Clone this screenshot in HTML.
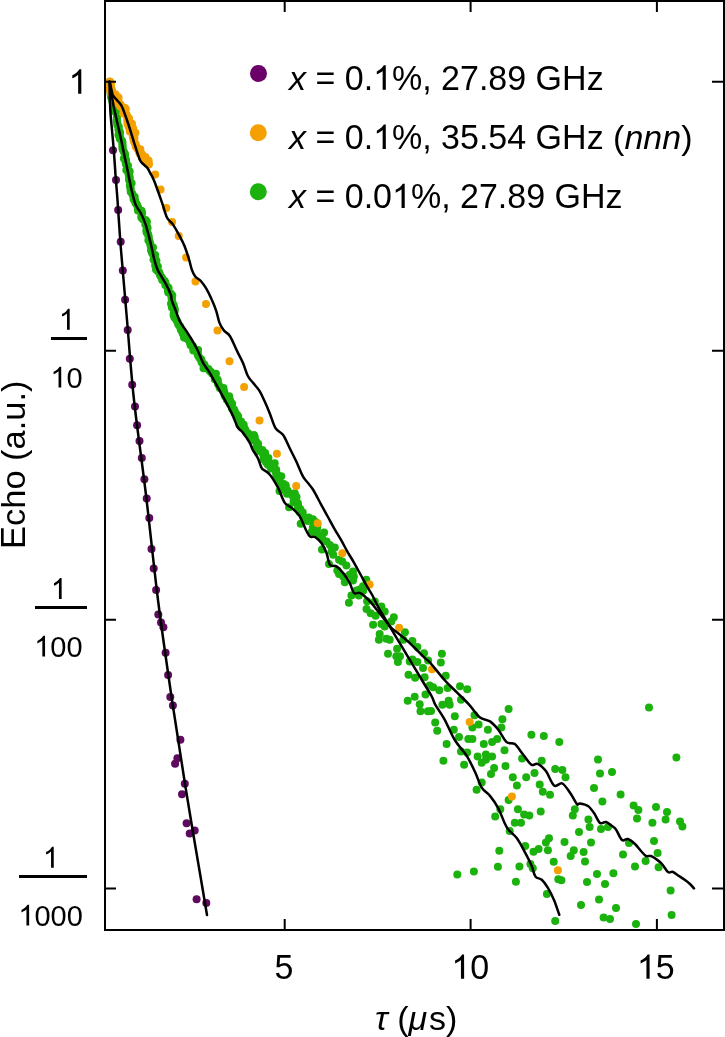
<!DOCTYPE html>
<html><head><meta charset="utf-8"><style>
html,body{margin:0;padding:0;background:#fff;width:725px;height:1037px;overflow:hidden}
svg{display:block;will-change:transform}
text{font-family:"Liberation Sans",sans-serif;fill:#000;font-kerning:none;white-space:pre}
</style></head><body>
<svg width="725" height="1037" viewBox="0 0 725 1037">
<defs><clipPath id="plotclip"><rect x="105" y="1" width="619" height="929"/></clipPath></defs>
<g clip-path="url(#plotclip)">
<g fill="#1cb20e"><circle cx="109.7" cy="81.7" r="4.0"/><circle cx="109.4" cy="83.7" r="4.0"/><circle cx="110.3" cy="85.6" r="4.0"/><circle cx="110.8" cy="87.6" r="4.0"/><circle cx="111.6" cy="89.5" r="4.0"/><circle cx="111.3" cy="91.5" r="4.0"/><circle cx="110.5" cy="93.7" r="4.0"/><circle cx="111.4" cy="95.6" r="4.0"/><circle cx="111.2" cy="97.6" r="4.0"/><circle cx="112.2" cy="99.5" r="4.0"/><circle cx="112.4" cy="101.5" r="4.0"/><circle cx="113.0" cy="103.4" r="4.0"/><circle cx="115.0" cy="105.1" r="4.0"/><circle cx="113.1" cy="107.5" r="4.0"/><circle cx="113.8" cy="109.4" r="4.0"/><circle cx="114.2" cy="111.3" r="4.0"/><circle cx="116.6" cy="112.9" r="4.0"/><circle cx="117.1" cy="114.8" r="4.0"/><circle cx="116.8" cy="116.9" r="4.0"/><circle cx="116.9" cy="119.0" r="4.0"/><circle cx="116.6" cy="121.1" r="4.0"/><circle cx="117.4" cy="122.9" r="4.0"/><circle cx="117.3" cy="125.0" r="4.0"/><circle cx="118.8" cy="126.7" r="4.0"/><circle cx="118.4" cy="128.9" r="4.0"/><circle cx="118.8" cy="130.8" r="4.0"/><circle cx="120.1" cy="132.6" r="4.0"/><circle cx="118.5" cy="135.0" r="4.0"/><circle cx="120.0" cy="136.7" r="4.0"/><circle cx="119.8" cy="138.8" r="4.0"/><circle cx="121.9" cy="140.4" r="4.0"/><circle cx="122.4" cy="142.3" r="4.0"/><circle cx="122.4" cy="144.4" r="4.0"/><circle cx="122.6" cy="146.4" r="4.0"/><circle cx="122.4" cy="148.5" r="4.0"/><circle cx="123.1" cy="150.3" r="4.0"/><circle cx="124.1" cy="152.2" r="4.0"/><circle cx="125.0" cy="154.0" r="4.0"/><circle cx="125.0" cy="156.1" r="4.0"/><circle cx="123.9" cy="158.4" r="4.0"/><circle cx="126.1" cy="159.9" r="4.0"/><circle cx="125.6" cy="162.1" r="4.0"/><circle cx="125.9" cy="164.1" r="4.0"/><circle cx="128.0" cy="165.7" r="4.0"/><circle cx="127.0" cy="167.9" r="4.0"/><circle cx="126.3" cy="170.1" r="4.0"/><circle cx="129.7" cy="171.5" r="4.0"/><circle cx="128.6" cy="173.7" r="4.0"/><circle cx="128.8" cy="175.7" r="4.0"/><circle cx="129.8" cy="177.6" r="4.0"/><circle cx="129.0" cy="179.8" r="4.0"/><circle cx="129.9" cy="181.6" r="4.0"/><circle cx="131.6" cy="183.3" r="4.0"/><circle cx="129.9" cy="185.7" r="4.0"/><circle cx="130.5" cy="187.6" r="4.0"/><circle cx="130.6" cy="189.6" r="4.0"/><circle cx="130.7" cy="191.7" r="4.0"/><circle cx="132.2" cy="193.4" r="4.0"/><circle cx="132.9" cy="195.3" r="4.0"/><circle cx="134.7" cy="196.9" r="4.0"/><circle cx="133.6" cy="199.3" r="4.0"/><circle cx="135.2" cy="200.9" r="4.0"/><circle cx="135.5" cy="202.9" r="4.0"/><circle cx="136.7" cy="204.3" r="4.0"/><circle cx="137.5" cy="206.1" r="4.0"/><circle cx="138.2" cy="208.0" r="4.0"/><circle cx="137.9" cy="210.6" r="4.0"/><circle cx="141.5" cy="210.7" r="4.0"/><circle cx="142.1" cy="212.9" r="4.0"/><circle cx="141.5" cy="215.4" r="4.0"/><circle cx="141.3" cy="217.6" r="4.0"/><circle cx="142.8" cy="219.2" r="4.0"/><circle cx="145.6" cy="220.1" r="4.0"/><circle cx="146.9" cy="221.7" r="4.0"/><circle cx="145.3" cy="224.6" r="4.0"/><circle cx="146.8" cy="226.2" r="4.0"/><circle cx="147.6" cy="228.1" r="4.0"/><circle cx="146.3" cy="230.5" r="4.0"/><circle cx="146.7" cy="232.4" r="4.0"/><circle cx="148.1" cy="234.2" r="4.0"/><circle cx="148.5" cy="236.1" r="4.0"/><circle cx="148.9" cy="238.1" r="4.0"/><circle cx="148.4" cy="240.3" r="4.0"/><circle cx="149.8" cy="242.0" r="4.0"/><circle cx="150.3" cy="243.9" r="4.0"/><circle cx="150.7" cy="245.9" r="4.0"/><circle cx="153.0" cy="247.4" r="4.0"/><circle cx="151.0" cy="249.9" r="4.0"/><circle cx="151.7" cy="251.8" r="4.0"/><circle cx="152.5" cy="253.7" r="4.0"/><circle cx="155.1" cy="255.1" r="4.0"/><circle cx="154.4" cy="257.3" r="4.0"/><circle cx="153.5" cy="259.6" r="4.0"/><circle cx="156.4" cy="260.8" r="4.0"/><circle cx="155.6" cy="263.2" r="4.0"/><circle cx="155.2" cy="265.4" r="4.0"/><circle cx="157.9" cy="266.6" r="4.0"/><circle cx="156.0" cy="269.4" r="4.0"/><circle cx="157.7" cy="271.0" r="4.0"/><circle cx="159.3" cy="272.4" r="4.0"/><circle cx="159.9" cy="274.4" r="4.0"/><circle cx="160.6" cy="276.2" r="4.0"/><circle cx="162.0" cy="277.8" r="4.0"/><circle cx="162.2" cy="279.9" r="4.0"/><circle cx="164.6" cy="280.9" r="4.0"/><circle cx="165.4" cy="282.7" r="4.0"/><circle cx="165.3" cy="285.1" r="4.0"/><circle cx="167.0" cy="286.4" r="4.0"/><circle cx="168.6" cy="287.9" r="4.0"/><circle cx="167.9" cy="290.4" r="4.0"/><circle cx="168.3" cy="292.4" r="4.0"/><circle cx="170.7" cy="293.5" r="4.0"/><circle cx="172.3" cy="295.4" r="4.0"/><circle cx="171.5" cy="297.5" r="4.0"/><circle cx="171.8" cy="299.5" r="4.0"/><circle cx="172.3" cy="301.4" r="4.0"/><circle cx="171.0" cy="303.7" r="4.0"/><circle cx="173.8" cy="305.2" r="4.0"/><circle cx="171.9" cy="307.6" r="4.0"/><circle cx="174.8" cy="309.1" r="4.0"/><circle cx="174.7" cy="311.1" r="4.0"/><circle cx="173.7" cy="313.4" r="4.0"/><circle cx="173.6" cy="315.4" r="4.0"/><circle cx="174.5" cy="317.5" r="4.0"/><circle cx="175.8" cy="319.1" r="4.0"/><circle cx="176.9" cy="320.7" r="4.0"/><circle cx="177.8" cy="322.5" r="4.0"/><circle cx="178.3" cy="324.5" r="4.0"/><circle cx="179.9" cy="326.0" r="4.0"/><circle cx="180.4" cy="328.0" r="4.0"/><circle cx="181.0" cy="329.9" r="4.0"/><circle cx="182.4" cy="331.4" r="4.0"/><circle cx="182.7" cy="333.6" r="4.0"/><circle cx="184.0" cy="335.1" r="4.0"/><circle cx="184.0" cy="337.6" r="4.0"/><circle cx="186.5" cy="338.3" r="4.0"/><circle cx="188.3" cy="339.5" r="4.0"/><circle cx="189.4" cy="341.2" r="4.0"/><circle cx="190.2" cy="343.0" r="4.0"/><circle cx="190.6" cy="345.2" r="4.0"/><circle cx="192.8" cy="346.1" r="4.0"/><circle cx="193.4" cy="348.2" r="4.0"/><circle cx="193.3" cy="350.6" r="4.0"/><circle cx="198.1" cy="350.0" r="4.0"/><circle cx="197.8" cy="352.4" r="4.0"/><circle cx="197.7" cy="354.8" r="4.0"/><circle cx="198.6" cy="356.6" r="4.0"/><circle cx="199.8" cy="358.3" r="4.0"/><circle cx="201.4" cy="359.6" r="4.0"/><circle cx="201.5" cy="361.9" r="4.0"/><circle cx="202.8" cy="363.4" r="4.0"/><circle cx="204.5" cy="364.7" r="4.0"/><circle cx="203.5" cy="368.3" r="4.0"/><circle cx="206.4" cy="368.3" r="4.0"/><circle cx="208.4" cy="369.1" r="4.0"/><circle cx="209.5" cy="370.8" r="4.0"/><circle cx="211.0" cy="372.1" r="4.0"/><circle cx="212.3" cy="373.7" r="4.0"/><circle cx="215.9" cy="373.8" r="4.0"/><circle cx="215.0" cy="376.7" r="4.0"/><circle cx="214.8" cy="379.2" r="4.0"/><circle cx="217.7" cy="379.7" r="4.0"/><circle cx="217.9" cy="382.0" r="4.0"/><circle cx="218.1" cy="384.2" r="4.0"/><circle cx="219.2" cy="385.8" r="4.0"/><circle cx="219.8" cy="387.9" r="4.0"/><circle cx="223.5" cy="388.0" r="4.0"/><circle cx="223.3" cy="390.4" r="4.0"/><circle cx="224.3" cy="392.1" r="4.0"/><circle cx="224.4" cy="394.4" r="4.0"/><circle cx="225.0" cy="396.3" r="4.0"/><circle cx="229.2" cy="396.2" r="4.0"/><circle cx="226.9" cy="399.8" r="4.0"/><circle cx="230.1" cy="400.3" r="4.0"/><circle cx="229.2" cy="403.1" r="4.0"/><circle cx="232.1" cy="403.7" r="4.0"/><circle cx="231.8" cy="406.3" r="4.0"/><circle cx="231.9" cy="408.5" r="4.0"/><circle cx="234.1" cy="409.5" r="4.0"/><circle cx="234.9" cy="411.4" r="4.0"/><circle cx="235.4" cy="413.4" r="4.0"/><circle cx="237.0" cy="414.8" r="4.0"/><circle cx="238.2" cy="416.4" r="4.0"/><circle cx="237.7" cy="418.9" r="4.0"/><circle cx="239.0" cy="420.5" r="4.0"/><circle cx="241.1" cy="421.6" r="4.0"/><circle cx="239.3" cy="424.8" r="4.0"/><circle cx="243.7" cy="424.8" r="4.0"/><circle cx="242.8" cy="427.5" r="4.0"/><circle cx="244.7" cy="428.8" r="4.0"/><circle cx="245.7" cy="430.5" r="4.0"/><circle cx="246.4" cy="432.7" r="4.0"/><circle cx="248.4" cy="433.5" r="4.0"/><circle cx="249.2" cy="435.5" r="4.0"/><circle cx="253.8" cy="434.9" r="4.0"/><circle cx="254.7" cy="436.7" r="4.0"/><circle cx="252.2" cy="440.2" r="4.0"/><circle cx="255.6" cy="440.8" r="4.0"/><circle cx="256.6" cy="442.5" r="4.0"/><circle cx="258.2" cy="443.9" r="4.0"/><circle cx="255.6" cy="448.3" r="4.0"/><circle cx="257.7" cy="448.9" r="4.0"/><circle cx="257.7" cy="451.0" r="4.0"/><circle cx="262.4" cy="450.0" r="4.0"/><circle cx="262.3" cy="452.7" r="4.0"/><circle cx="265.1" cy="453.0" r="4.0"/><circle cx="263.6" cy="456.7" r="4.0"/><circle cx="263.6" cy="459.2" r="4.0"/><circle cx="268.4" cy="458.1" r="4.0"/><circle cx="266.0" cy="462.3" r="4.0"/><circle cx="268.1" cy="463.3" r="4.0"/><circle cx="270.9" cy="463.7" r="4.0"/><circle cx="274.7" cy="463.3" r="4.0"/><circle cx="271.0" cy="468.5" r="4.0"/><circle cx="274.3" cy="468.6" r="4.0"/><circle cx="276.2" cy="469.8" r="4.0"/><circle cx="275.9" cy="472.4" r="4.0"/><circle cx="277.0" cy="474.1" r="4.0"/><circle cx="276.3" cy="476.6" r="4.0"/><circle cx="281.3" cy="476.2" r="4.0"/><circle cx="278.8" cy="479.8" r="4.0"/><circle cx="279.3" cy="481.9" r="4.0"/><circle cx="280.3" cy="483.6" r="4.0"/><circle cx="283.8" cy="483.9" r="4.0"/><circle cx="285.7" cy="485.2" r="4.0"/><circle cx="284.1" cy="488.5" r="4.0"/><circle cx="286.6" cy="489.2" r="4.0"/><circle cx="287.8" cy="490.9" r="4.0"/><circle cx="287.0" cy="493.8" r="4.0"/><circle cx="290.7" cy="493.7" r="4.0"/><circle cx="294.8" cy="493.2" r="4.0"/><circle cx="293.2" cy="496.9" r="4.0"/><circle cx="296.5" cy="497.1" r="4.0"/><circle cx="293.6" cy="501.4" r="4.0"/><circle cx="295.4" cy="502.6" r="4.0"/><circle cx="297.9" cy="503.3" r="4.0"/><circle cx="298.1" cy="505.6" r="4.0"/><circle cx="298.0" cy="508.1" r="4.0"/><circle cx="300.2" cy="509.0" r="4.0"/><circle cx="299.5" cy="511.9" r="4.0"/><circle cx="302.7" cy="512.2" r="4.0"/><circle cx="302.4" cy="515.0" r="4.0"/><circle cx="303.1" cy="517.1" r="4.0"/><circle cx="304.2" cy="518.7" r="4.0"/><circle cx="308.7" cy="517.5" r="4.0"/><circle cx="307.8" cy="520.9" r="4.0"/><circle cx="312.9" cy="519.2" r="4.0"/><circle cx="313.1" cy="521.6" r="4.0"/><circle cx="315.6" cy="522.0" r="4.0"/><circle cx="312.9" cy="527.2" r="4.0"/><circle cx="317.3" cy="525.9" r="4.0"/><circle cx="317.0" cy="528.8" r="4.0"/><circle cx="441.9" cy="653.8" r="4.0"/><circle cx="440.8" cy="662.5" r="4.0"/><circle cx="445.7" cy="675.7" r="4.0"/><circle cx="433.1" cy="687.2" r="4.0"/><circle cx="439.3" cy="690.3" r="4.0"/><circle cx="447.6" cy="687.9" r="4.0"/><circle cx="460.0" cy="686.2" r="4.0"/><circle cx="467.2" cy="689.3" r="4.0"/><circle cx="461.0" cy="699.7" r="4.0"/><circle cx="448.6" cy="700.7" r="4.0"/><circle cx="442.4" cy="704.8" r="4.0"/><circle cx="449.7" cy="704.8" r="4.0"/><circle cx="431.0" cy="711.0" r="4.0"/><circle cx="454.8" cy="716.2" r="4.0"/><circle cx="474.5" cy="715.2" r="4.0"/><circle cx="508.6" cy="709.0" r="4.0"/><circle cx="502.4" cy="719.3" r="4.0"/><circle cx="501.4" cy="727.6" r="4.0"/><circle cx="435.2" cy="722.4" r="4.0"/><circle cx="437.2" cy="730.7" r="4.0"/><circle cx="453.8" cy="729.7" r="4.0"/><circle cx="472.4" cy="727.6" r="4.0"/><circle cx="478.6" cy="724.5" r="4.0"/><circle cx="487.9" cy="729.7" r="4.0"/><circle cx="459.0" cy="736.9" r="4.0"/><circle cx="468.3" cy="739.0" r="4.0"/><circle cx="472.4" cy="739.0" r="4.0"/><circle cx="446.6" cy="744.1" r="4.0"/><circle cx="483.8" cy="744.1" r="4.0"/><circle cx="492.1" cy="742.1" r="4.0"/><circle cx="497.2" cy="739.0" r="4.0"/><circle cx="531.4" cy="734.8" r="4.0"/><circle cx="543.8" cy="735.9" r="4.0"/><circle cx="559.3" cy="742.1" r="4.0"/><circle cx="461.0" cy="751.4" r="4.0"/><circle cx="467.2" cy="752.4" r="4.0"/><circle cx="477.6" cy="756.6" r="4.0"/><circle cx="485.9" cy="754.5" r="4.0"/><circle cx="492.1" cy="756.6" r="4.0"/><circle cx="504.5" cy="750.3" r="4.0"/><circle cx="522.1" cy="758.6" r="4.0"/><circle cx="541.7" cy="760.7" r="4.0"/><circle cx="443.4" cy="760.7" r="4.0"/><circle cx="464.1" cy="764.8" r="4.0"/><circle cx="481.7" cy="762.8" r="4.0"/><circle cx="485.9" cy="759.7" r="4.0"/><circle cx="494.1" cy="767.9" r="4.0"/><circle cx="505.5" cy="765.9" r="4.0"/><circle cx="491.0" cy="774.1" r="4.0"/><circle cx="555.2" cy="769.0" r="4.0"/><circle cx="562.4" cy="770.0" r="4.0"/><circle cx="565.5" cy="777.2" r="4.0"/><circle cx="526.2" cy="777.2" r="4.0"/><circle cx="534.5" cy="773.1" r="4.0"/><circle cx="512.8" cy="777.2" r="4.0"/><circle cx="516.9" cy="785.5" r="4.0"/><circle cx="539.7" cy="784.5" r="4.0"/><circle cx="542.8" cy="791.7" r="4.0"/><circle cx="550.0" cy="794.8" r="4.0"/><circle cx="481.7" cy="782.4" r="4.0"/><circle cx="476.6" cy="789.7" r="4.0"/><circle cx="508.6" cy="800.0" r="4.0"/><circle cx="517.9" cy="809.3" r="4.0"/><circle cx="540.7" cy="811.4" r="4.0"/><circle cx="500.3" cy="809.3" r="4.0"/><circle cx="495.2" cy="816.6" r="4.0"/><circle cx="524.1" cy="814.5" r="4.0"/><circle cx="529.3" cy="815.5" r="4.0"/><circle cx="514.8" cy="822.8" r="4.0"/><circle cx="521.0" cy="822.8" r="4.0"/><circle cx="574.8" cy="809.3" r="4.0"/><circle cx="572.8" cy="815.5" r="4.0"/><circle cx="649.0" cy="707.4" r="4.0"/><circle cx="598.0" cy="759.6" r="4.0"/><circle cx="676.4" cy="757.6" r="4.0"/><circle cx="600.0" cy="773.6" r="4.0"/><circle cx="612.0" cy="772.0" r="4.0"/><circle cx="594.0" cy="788.0" r="4.0"/><circle cx="620.6" cy="794.4" r="4.0"/><circle cx="602.4" cy="801.6" r="4.0"/><circle cx="633.6" cy="805.6" r="4.0"/><circle cx="638.4" cy="810.0" r="4.0"/><circle cx="656.0" cy="807.0" r="4.0"/><circle cx="667.0" cy="812.0" r="4.0"/><circle cx="637.0" cy="818.4" r="4.0"/><circle cx="652.4" cy="822.8" r="4.0"/><circle cx="665.6" cy="819.6" r="4.0"/><circle cx="680.0" cy="821.6" r="4.0"/><circle cx="682.4" cy="826.6" r="4.0"/><circle cx="588.4" cy="819.6" r="4.0"/><circle cx="589.6" cy="827.0" r="4.0"/><circle cx="601.0" cy="829.0" r="4.0"/><circle cx="608.0" cy="827.0" r="4.0"/><circle cx="509.7" cy="831.0" r="4.0"/><circle cx="499.3" cy="850.7" r="4.0"/><circle cx="457.3" cy="874.5" r="4.0"/><circle cx="473.9" cy="871.4" r="4.0"/><circle cx="497.9" cy="866.8" r="4.0"/><circle cx="519.4" cy="866.4" r="4.0"/><circle cx="515.9" cy="881.7" r="4.0"/><circle cx="525.2" cy="846.1" r="4.0"/><circle cx="533.5" cy="851.7" r="4.0"/><circle cx="538.6" cy="849.0" r="4.0"/><circle cx="545.9" cy="842.4" r="4.0"/><circle cx="549.0" cy="838.3" r="4.0"/><circle cx="547.9" cy="850.3" r="4.0"/><circle cx="564.5" cy="842.0" r="4.0"/><circle cx="573.8" cy="850.3" r="4.0"/><circle cx="570.7" cy="855.9" r="4.0"/><circle cx="530.4" cy="864.1" r="4.0"/><circle cx="532.8" cy="868.3" r="4.0"/><circle cx="553.7" cy="861.7" r="4.0"/><circle cx="558.3" cy="879.2" r="4.0"/><circle cx="561.4" cy="880.3" r="4.0"/><circle cx="546.9" cy="894.1" r="4.0"/><circle cx="555.2" cy="921.0" r="4.0"/><circle cx="579.0" cy="832.1" r="4.0"/><circle cx="591.0" cy="842.4" r="4.0"/><circle cx="583.6" cy="852.0" r="4.0"/><circle cx="585.0" cy="861.6" r="4.0"/><circle cx="629.0" cy="843.0" r="4.0"/><circle cx="623.0" cy="854.4" r="4.0"/><circle cx="654.0" cy="841.0" r="4.0"/><circle cx="657.6" cy="853.0" r="4.0"/><circle cx="645.6" cy="861.0" r="4.0"/><circle cx="635.0" cy="866.6" r="4.0"/><circle cx="658.6" cy="867.2" r="4.0"/><circle cx="597.0" cy="874.0" r="4.0"/><circle cx="613.4" cy="873.2" r="4.0"/><circle cx="587.0" cy="882.0" r="4.0"/><circle cx="605.0" cy="884.0" r="4.0"/><circle cx="670.6" cy="890.6" r="4.0"/><circle cx="599.0" cy="899.4" r="4.0"/><circle cx="581.0" cy="905.0" r="4.0"/><circle cx="616.0" cy="908.0" r="4.0"/><circle cx="603.6" cy="917.4" r="4.0"/><circle cx="610.0" cy="919.0" r="4.0"/><circle cx="636.0" cy="924.0" r="4.0"/><circle cx="671.6" cy="915.0" r="4.0"/><circle cx="311.7" cy="531.7" r="4.0"/><circle cx="316.6" cy="532.5" r="4.0"/><circle cx="324.1" cy="532.5" r="4.0"/><circle cx="319.1" cy="536.6" r="4.0"/><circle cx="322.4" cy="539.1" r="4.0"/><circle cx="326.6" cy="541.6" r="4.0"/><circle cx="329.9" cy="544.9" r="4.0"/><circle cx="334.8" cy="547.4" r="4.0"/><circle cx="322.0" cy="549.5" r="4.0"/><circle cx="331.5" cy="551.5" r="4.0"/><circle cx="333.2" cy="554.8" r="4.0"/><circle cx="339.0" cy="559.8" r="4.0"/><circle cx="342.3" cy="561.5" r="4.0"/><circle cx="346.4" cy="565.6" r="4.0"/><circle cx="329.0" cy="563.9" r="4.0"/><circle cx="337.3" cy="570.6" r="4.0"/><circle cx="339.0" cy="573.9" r="4.0"/><circle cx="343.1" cy="576.4" r="4.0"/><circle cx="344.8" cy="582.2" r="4.0"/><circle cx="353.0" cy="571.4" r="4.0"/><circle cx="353.9" cy="576.4" r="4.0"/><circle cx="353.0" cy="580.5" r="4.0"/><circle cx="349.7" cy="574.7" r="4.0"/><circle cx="366.3" cy="579.7" r="4.0"/><circle cx="363.0" cy="586.3" r="4.0"/><circle cx="359.7" cy="589.6" r="4.0"/><circle cx="356.4" cy="590.4" r="4.0"/><circle cx="358.8" cy="595.4" r="4.0"/><circle cx="351.4" cy="595.4" r="4.0"/><circle cx="348.9" cy="602.8" r="4.0"/><circle cx="367.1" cy="601.2" r="4.0"/><circle cx="363.2" cy="590.8" r="4.0"/><circle cx="374.8" cy="601.6" r="4.0"/><circle cx="366.5" cy="609.0" r="4.0"/><circle cx="370.6" cy="613.2" r="4.0"/><circle cx="375.6" cy="615.7" r="4.0"/><circle cx="381.4" cy="606.6" r="4.0"/><circle cx="384.7" cy="611.5" r="4.0"/><circle cx="393.8" cy="617.3" r="4.0"/><circle cx="391.3" cy="621.5" r="4.0"/><circle cx="373.1" cy="624.8" r="4.0"/><circle cx="381.4" cy="623.9" r="4.0"/><circle cx="384.7" cy="626.4" r="4.0"/><circle cx="379.7" cy="633.9" r="4.0"/><circle cx="378.9" cy="639.7" r="4.0"/><circle cx="386.4" cy="638.8" r="4.0"/><circle cx="389.7" cy="639.7" r="4.0"/><circle cx="388.0" cy="653.7" r="4.0"/><circle cx="397.1" cy="648.8" r="4.0"/><circle cx="396.3" cy="656.2" r="4.0"/><circle cx="397.9" cy="662.0" r="4.0"/><circle cx="404.9" cy="632.2" r="4.0"/><circle cx="403.3" cy="639.7" r="4.0"/><circle cx="412.4" cy="640.9" r="4.0"/><circle cx="417.4" cy="647.1" r="4.0"/><circle cx="424.0" cy="653.3" r="4.0"/><circle cx="428.1" cy="660.4" r="4.0"/><circle cx="400.0" cy="656.2" r="4.0"/><circle cx="412.4" cy="659.5" r="4.0"/><circle cx="417.4" cy="662.0" r="4.0"/><circle cx="409.7" cy="661.5" r="4.0"/><circle cx="423.0" cy="668.1" r="4.0"/><circle cx="408.5" cy="674.8" r="4.0"/><circle cx="415.1" cy="677.7" r="4.0"/><circle cx="424.6" cy="677.3" r="4.0"/><circle cx="429.6" cy="685.5" r="4.0"/><circle cx="425.5" cy="694.6" r="4.0"/><circle cx="414.7" cy="696.7" r="4.0"/><circle cx="407.7" cy="700.8" r="4.0"/><circle cx="419.7" cy="704.2" r="4.0"/><circle cx="420.5" cy="711.2" r="4.0"/><circle cx="427.9" cy="711.2" r="4.0"/><circle cx="279.5" cy="490.9" r="4.0"/><circle cx="289.1" cy="507.3" r="4.0"/><circle cx="300.7" cy="523.7" r="4.0"/><circle cx="267.9" cy="464.8" r="4.0"/></g>
<g fill="#f4a000"><circle cx="109.8" cy="81.6" r="4.0"/><circle cx="109.9" cy="83.2" r="4.0"/><circle cx="111.1" cy="84.6" r="4.0"/><circle cx="110.2" cy="86.5" r="4.0"/><circle cx="108.2" cy="88.6" r="4.0"/><circle cx="111.3" cy="89.5" r="4.0"/><circle cx="110.9" cy="91.2" r="4.0"/><circle cx="110.9" cy="93.3" r="4.0"/><circle cx="113.3" cy="93.8" r="4.0"/><circle cx="115.6" cy="94.4" r="4.0"/><circle cx="115.4" cy="96.3" r="4.0"/><circle cx="114.2" cy="99.2" r="4.0"/><circle cx="118.5" cy="97.5" r="4.0"/><circle cx="118.3" cy="99.8" r="4.0"/><circle cx="117.3" cy="102.6" r="4.0"/><circle cx="118.5" cy="103.7" r="4.0"/><circle cx="120.4" cy="104.3" r="4.0"/><circle cx="120.3" cy="106.4" r="4.0"/><circle cx="122.0" cy="107.1" r="4.0"/><circle cx="124.6" cy="107.8" r="4.0"/><circle cx="125.8" cy="109.0" r="4.0"/><circle cx="125.0" cy="111.1" r="4.0"/><circle cx="123.2" cy="113.4" r="4.0"/><circle cx="126.0" cy="114.1" r="4.0"/><circle cx="127.0" cy="115.5" r="4.0"/><circle cx="127.3" cy="117.1" r="4.0"/><circle cx="128.9" cy="118.3" r="4.0"/><circle cx="127.2" cy="120.5" r="4.0"/><circle cx="129.3" cy="121.5" r="4.0"/><circle cx="127.5" cy="123.7" r="4.0"/><circle cx="132.0" cy="123.7" r="4.0"/><circle cx="128.6" cy="126.8" r="4.0"/><circle cx="130.7" cy="127.7" r="4.0"/><circle cx="133.2" cy="128.4" r="4.0"/><circle cx="129.8" cy="131.5" r="4.0"/><circle cx="131.9" cy="132.4" r="4.0"/><circle cx="135.4" cy="132.7" r="4.0"/><circle cx="134.0" cy="135.0" r="4.0"/><circle cx="132.8" cy="137.1" r="4.0"/><circle cx="134.4" cy="138.3" r="4.0"/><circle cx="133.7" cy="140.2" r="4.0"/><circle cx="134.3" cy="141.7" r="4.0"/><circle cx="134.9" cy="143.2" r="4.0"/><circle cx="135.8" cy="144.6" r="4.0"/><circle cx="135.7" cy="146.4" r="4.0"/><circle cx="136.8" cy="147.6" r="4.0"/><circle cx="137.7" cy="149.0" r="4.0"/><circle cx="140.3" cy="149.3" r="4.0"/><circle cx="139.1" cy="151.9" r="4.0"/><circle cx="139.7" cy="153.5" r="4.0"/><circle cx="141.7" cy="154.1" r="4.0"/><circle cx="142.7" cy="155.3" r="4.0"/><circle cx="142.3" cy="157.9" r="4.0"/><circle cx="145.5" cy="156.9" r="4.0"/><circle cx="145.4" cy="159.3" r="4.0"/><circle cx="145.5" cy="161.5" r="4.0"/><circle cx="148.5" cy="160.6" r="4.0"/><circle cx="148.7" cy="162.6" r="4.0"/><circle cx="148.9" cy="164.5" r="4.0"/><circle cx="155.2" cy="174.5" r="4.0"/><circle cx="160.6" cy="189.5" r="4.0"/><circle cx="166.3" cy="207.9" r="4.0"/><circle cx="172.1" cy="222.0" r="4.0"/><circle cx="178.7" cy="236.0" r="4.0"/><circle cx="186.1" cy="257.5" r="4.0"/><circle cx="195.5" cy="281.5" r="4.0"/><circle cx="206.0" cy="303.9" r="4.0"/><circle cx="217.5" cy="330.5" r="4.0"/><circle cx="229.5" cy="361.3" r="4.0"/><circle cx="244.1" cy="387.1" r="4.0"/><circle cx="259.5" cy="420.5" r="4.0"/><circle cx="276.9" cy="453.8" r="4.0"/><circle cx="296.2" cy="486.1" r="4.0"/><circle cx="317.7" cy="523.3" r="4.0"/><circle cx="432.0" cy="669.2" r="4.0"/><circle cx="469.7" cy="722.0" r="4.0"/><circle cx="511.9" cy="796.5" r="4.0"/><circle cx="342.3" cy="553.2" r="4.0"/><circle cx="369.6" cy="584.6" r="4.0"/><circle cx="399.1" cy="627.7" r="4.0"/><circle cx="557.9" cy="870.3" r="4.0"/></g>
<g fill="#5e0a5e"><circle cx="113.0" cy="150.2" r="4.0"/><circle cx="116.0" cy="180.0" r="4.0"/><circle cx="118.2" cy="210.0" r="4.0"/><circle cx="120.7" cy="241.7" r="4.0"/><circle cx="122.8" cy="270.5" r="4.0"/><circle cx="125.1" cy="299.7" r="4.0"/><circle cx="127.7" cy="330.0" r="4.0"/><circle cx="129.8" cy="358.7" r="4.0"/><circle cx="132.2" cy="384.8" r="4.0"/><circle cx="135.0" cy="406.5" r="4.0"/><circle cx="137.1" cy="425.3" r="4.0"/><circle cx="139.5" cy="441.0" r="4.0"/><circle cx="141.8" cy="458.0" r="4.0"/><circle cx="144.4" cy="479.3" r="4.0"/><circle cx="146.7" cy="498.4" r="4.0"/><circle cx="149.3" cy="518.1" r="4.0"/><circle cx="151.5" cy="549.1" r="4.0"/><circle cx="153.7" cy="568.6" r="4.0"/><circle cx="156.1" cy="590.1" r="4.0"/><circle cx="158.3" cy="614.4" r="4.0"/><circle cx="161.0" cy="622.4" r="4.0"/><circle cx="163.4" cy="627.3" r="4.0"/><circle cx="165.6" cy="652.7" r="4.0"/><circle cx="168.1" cy="674.9" r="4.0"/><circle cx="170.3" cy="697.0" r="4.0"/><circle cx="172.9" cy="705.6" r="4.0"/><circle cx="180.4" cy="739.8" r="4.0"/><circle cx="177.4" cy="758.3" r="4.0"/><circle cx="175.1" cy="763.7" r="4.0"/><circle cx="184.8" cy="783.8" r="4.0"/><circle cx="182.0" cy="794.2" r="4.0"/><circle cx="186.6" cy="823.2" r="4.0"/><circle cx="189.7" cy="833.6" r="4.0"/><circle cx="194.7" cy="830.6" r="4.0"/><circle cx="196.6" cy="899.2" r="4.0"/><circle cx="206.3" cy="903.1" r="4.0"/></g>
<g fill="none" stroke="#000" stroke-width="2.5" stroke-linejoin="round" stroke-linecap="round">
<path d="M109.5 81.7C109.6 86.4 109.9 102.0 110.3 110.0C110.7 118.0 111.4 123.2 112.0 130.0C112.6 136.8 113.3 143.8 113.8 150.5C114.3 157.2 114.9 165.9 115.2 170.0C115.5 174.1 115.1 170.0 115.5 175.0C115.9 180.0 116.6 187.5 117.5 200.0C118.4 212.5 119.4 230.0 121.0 250.0C122.6 270.0 124.8 295.0 127.0 320.0C129.2 345.0 130.8 370.8 134.0 400.0C137.2 429.2 142.0 461.7 146.0 495.0C150.0 528.3 153.7 565.8 158.0 600.0C162.3 634.2 167.5 669.3 172.0 700.0C176.5 730.7 181.0 759.0 185.0 784.0C189.0 809.0 192.3 828.2 196.0 850.0C199.7 871.8 205.2 904.2 207.0 915.0"/>
<path d="M109.5 81.7C109.6 82.1 110.0 82.6 110.3 84.0C110.6 85.4 111.0 88.0 111.5 90.0C112.0 92.0 112.0 93.8 113.1 95.7C114.2 97.6 116.4 99.4 117.9 101.2C119.4 103.0 120.5 103.6 122.0 106.7C123.5 109.8 125.6 116.4 126.9 120.0C128.2 123.6 128.8 125.4 129.7 128.3C130.6 131.2 131.5 134.2 132.4 137.2C133.3 140.2 134.3 143.3 135.2 146.2C136.1 149.1 137.0 152.0 137.9 154.5C138.8 157.0 139.5 159.6 140.7 161.4C141.8 163.2 143.7 164.3 144.8 165.5C146.0 166.7 146.7 167.0 147.6 168.3C148.5 169.6 149.3 171.2 150.3 173.1C151.3 175.0 152.7 177.3 153.8 180.0C155.0 182.7 155.8 185.2 157.2 189.0C158.6 192.8 160.4 198.1 162.1 202.9C163.8 207.7 165.3 214.2 167.1 217.8C168.9 221.4 171.0 221.6 172.9 224.4C174.8 227.2 176.8 230.8 178.7 234.4C180.6 238.0 182.8 241.7 184.5 246.0C186.2 250.3 188.0 256.0 189.2 260.0C190.4 264.0 190.9 267.1 191.9 269.9C192.9 272.7 193.8 274.8 195.3 276.6C196.8 278.5 199.0 279.0 200.8 281.0C202.6 283.0 204.5 285.6 206.3 288.7C208.1 291.8 210.2 296.0 211.8 299.7C213.5 303.4 214.9 306.9 216.2 310.8C217.5 314.7 218.2 319.6 219.5 322.9C220.8 326.2 222.2 328.4 224.0 330.6C225.8 332.8 227.8 332.8 230.0 336.2C232.2 339.6 234.9 346.7 237.1 351.1C239.2 355.5 241.1 358.6 242.9 362.7C244.7 366.8 246.2 372.7 247.9 376.0C249.6 379.3 250.9 380.1 252.8 382.6C254.7 385.1 257.6 387.8 259.5 390.9C261.4 394.0 262.8 397.3 264.5 401.0C266.2 404.7 267.9 408.7 269.7 413.2C271.5 417.7 273.3 424.5 275.5 428.1C277.7 431.7 280.6 431.5 283.0 434.8C285.4 438.1 287.4 443.6 289.6 448.0C291.8 452.4 294.0 456.6 296.2 461.3C298.4 466.0 300.9 472.6 302.8 476.2C304.7 479.8 306.1 480.5 307.8 482.8C309.6 485.1 311.1 486.4 313.3 490.0C315.5 493.6 318.6 499.9 321.0 504.3C323.4 508.7 325.5 512.5 327.7 516.5C329.9 520.5 332.1 524.7 334.3 528.6C336.5 532.5 338.7 535.8 340.9 539.7C343.1 543.6 345.3 547.9 347.5 551.8C349.7 555.6 351.9 558.9 354.1 562.8C356.3 566.7 358.6 571.0 360.8 575.0C363.0 579.0 365.5 583.8 367.4 587.1C369.3 590.4 370.3 591.5 372.2 595.0C374.1 598.5 376.6 604.2 378.8 608.2C381.0 612.2 383.3 615.6 385.5 619.3C387.7 623.0 389.9 626.6 392.1 630.3C394.3 634.0 396.5 637.7 398.7 641.4C400.9 645.1 403.1 648.7 405.3 652.4C407.5 656.1 409.7 659.7 411.9 663.4C414.1 667.1 416.4 670.8 418.6 674.5C420.8 678.2 423.0 681.8 425.2 685.5C427.4 689.2 430.1 693.4 431.8 696.5C433.5 699.6 433.0 700.5 435.1 704.3C437.2 708.1 441.2 713.3 444.5 719.3C447.8 725.2 451.0 733.8 454.8 740.0C458.6 746.2 463.8 751.1 467.2 756.6C470.6 762.1 473.1 767.9 475.5 773.1C477.9 778.3 479.3 783.8 481.7 787.6C484.1 791.4 487.2 792.5 490.0 795.9C492.8 799.3 495.9 803.8 498.3 808.3C500.7 812.8 502.8 819.2 504.5 822.8C506.2 826.4 506.5 827.4 508.6 830.0C510.7 832.6 514.1 834.5 516.9 838.3C519.7 842.1 522.8 848.3 525.2 852.8C527.6 857.3 529.7 861.2 531.4 865.2C533.1 869.2 533.8 874.2 535.5 876.6C537.2 879.0 539.6 877.8 541.7 879.7C543.8 881.6 545.8 884.5 547.9 887.9C550.0 891.3 552.2 895.8 554.1 900.3C556.0 904.8 558.4 912.4 559.3 914.8"/>
<path d="M109.5 81.7C110.0 84.8 111.7 95.3 112.5 100.0C113.3 104.7 113.5 105.9 114.4 110.0C115.3 114.1 116.6 119.7 117.7 124.5C118.8 129.3 120.0 134.2 121.0 139.0C122.0 143.8 123.0 148.7 124.0 153.5C125.0 158.3 125.8 162.0 127.1 168.0C128.3 174.0 130.1 183.6 131.5 189.7C132.9 195.8 134.1 200.8 135.6 204.6C137.1 208.4 138.9 209.5 140.6 212.8C142.3 216.1 143.9 219.4 145.6 224.4C147.2 229.4 149.0 236.7 150.5 242.6C152.0 248.5 153.2 255.4 154.4 260.0C155.6 264.6 156.4 266.9 157.7 269.9C159.0 272.8 160.6 275.1 162.1 277.7C163.6 280.3 165.1 282.5 166.6 285.4C168.1 288.3 170.2 292.9 171.0 295.3C171.8 297.7 170.9 297.6 171.7 300.0C172.4 302.4 174.1 306.4 175.5 310.0C176.9 313.6 178.1 317.9 179.9 321.5C181.8 325.1 183.8 327.0 186.6 331.4C189.4 335.8 193.8 342.8 196.5 348.0C199.2 353.2 200.9 358.8 203.1 362.9C205.3 367.0 207.2 368.7 209.7 372.8C212.2 376.9 215.2 382.7 218.0 387.7C220.8 392.7 223.8 397.9 226.3 402.6C228.8 407.3 231.0 411.8 232.9 415.9C234.8 420.0 236.2 424.7 237.9 427.5C239.6 430.3 240.9 430.0 242.8 432.5C244.7 435.0 247.8 439.5 249.5 442.4C251.2 445.3 251.4 447.4 252.8 450.0C254.2 452.6 256.5 455.3 257.9 458.2C259.3 461.1 260.3 465.2 261.2 467.1C262.1 469.0 261.7 468.3 263.1 469.5C264.5 470.7 267.2 471.5 269.7 474.5C272.2 477.5 275.5 483.0 278.0 487.7C280.5 492.4 282.4 499.3 284.6 502.6C286.8 505.9 288.8 505.4 291.3 507.6C293.8 509.8 297.1 512.2 299.5 515.9C301.9 519.6 304.2 526.5 306.0 530.0C307.8 533.5 308.5 535.4 310.0 536.6C311.5 537.8 313.1 535.9 315.0 537.0C316.9 538.1 319.7 540.5 321.6 543.2C323.5 545.9 325.2 549.6 326.6 553.2C328.0 556.8 328.2 562.6 329.9 564.8C331.5 567.0 334.3 565.0 336.5 566.4C338.7 567.8 340.9 570.2 343.1 573.0C345.3 575.8 347.9 579.7 349.7 583.0C351.5 586.3 352.2 591.2 353.9 592.9C355.6 594.5 357.9 592.3 359.7 592.9C361.5 593.5 362.7 594.6 364.6 596.2C366.5 597.9 369.1 600.3 371.3 602.8C373.5 605.3 375.7 608.3 377.9 611.1C380.1 613.9 382.3 616.6 384.5 619.4C386.7 622.2 388.6 625.2 391.1 627.7C393.6 630.2 396.4 631.8 399.4 634.3C402.4 636.8 406.3 639.8 409.3 642.6C412.3 645.4 414.8 648.1 417.6 650.9C420.4 653.6 423.8 657.2 425.9 659.1C428.0 661.0 426.9 659.0 430.0 662.5C433.1 666.0 440.0 675.0 444.5 680.0C449.0 685.0 452.8 688.3 456.9 692.4C461.0 696.5 465.5 700.7 469.3 704.8C473.1 708.9 476.2 714.4 479.7 717.2C483.1 720.0 486.9 719.3 490.0 721.4C493.1 723.5 495.5 726.2 498.3 729.7C501.1 733.2 503.9 739.7 506.6 742.1C509.4 744.5 512.0 742.0 514.8 744.1C517.5 746.2 520.3 751.0 523.1 754.5C525.9 758.0 529.0 763.2 531.4 764.8C533.8 766.3 535.2 762.8 537.6 763.8C540.0 764.8 543.1 767.4 545.9 771.0C548.6 774.6 551.4 783.4 554.1 785.5C556.9 787.6 559.6 782.1 562.4 783.5C565.2 784.9 568.3 790.4 570.7 793.8C573.1 797.2 575.4 802.5 576.9 804.1C578.4 805.7 578.1 803.2 580.0 803.5C581.9 803.8 585.7 804.4 588.0 806.0C590.3 807.6 592.0 810.2 594.0 813.0C596.0 815.8 598.0 821.5 600.0 823.0C602.0 824.5 604.0 821.5 606.0 822.0C608.0 822.5 610.3 824.8 612.0 826.0C613.7 827.2 614.3 827.2 616.0 829.5C617.7 831.8 620.0 838.4 622.0 840.0C624.0 841.6 625.8 838.3 628.0 839.0C630.2 839.7 632.8 842.0 635.0 844.0C637.2 846.0 639.2 849.0 641.0 851.0C642.8 853.0 644.3 855.2 646.0 856.0C647.7 856.8 649.3 855.5 651.0 856.0C652.7 856.5 654.2 857.7 656.0 859.0C657.8 860.3 660.0 861.8 662.0 864.0C664.0 866.2 666.2 870.7 668.0 872.0C669.8 873.3 671.2 871.3 673.0 872.0C674.8 872.7 677.0 874.7 679.0 876.0C681.0 877.3 683.2 878.7 685.0 880.0C686.8 881.3 688.5 882.6 690.0 884.0C691.5 885.4 693.3 887.7 694.0 888.4"/>
</g>
</g>
<!-- frame -->
<g stroke="#000" stroke-width="2" fill="none">
<rect x="105" y="1" width="619" height="929"/>
<path d="M105 81.8h11M105 350.8h11M105 619.7h11M105 888.4h11M724 81.8h-12M724 350.8h-12M724 619.7h-12M724 888.4h-12"/>
<path d="M284.7 930v-11M470.6 930v-11M656.9 930v-11M284.7 1v11M470.6 1v11M656.9 1v11"/>
</g>
<!-- legend -->
<circle cx="258.5" cy="73.5" r="8.5" fill="#6a0068"/>
<circle cx="258.3" cy="132.7" r="8.5" fill="#f4a000"/>
<circle cx="258.3" cy="191.8" r="8.5" fill="#1cb20e"/>
<g font-size="34"><path d="M768 0L575 0L575 1140Q518 1085 412 1023Q307 961 223 930L223 1104Q374 1175 487 1276Q600 1377 647 1472L763 1472Z" transform="translate(68.60 93.66) scale(0.01660 -0.01660)"/></g>
<g font-size="29"><path d="M768 0L575 0L575 1140Q518 1085 412 1023Q307 961 223 930L223 1104Q374 1175 487 1276Q600 1377 647 1472L763 1472Z" transform="translate(58.86 329.7) scale(0.01416 -0.01416)"/></g>
<g font-size="29"><path d="M768 0L575 0L575 1140Q518 1085 412 1023Q307 961 223 930L223 1104Q374 1175 487 1276Q600 1377 647 1472L763 1472Z" transform="translate(50.40 387.5) scale(0.01416 -0.01416)"/><text transform="translate(66.53 387.5) scale(1 1.04)">0</text></g>
<g font-size="29"><path d="M768 0L575 0L575 1140Q518 1085 412 1023Q307 961 223 930L223 1104Q374 1175 487 1276Q600 1377 647 1472L763 1472Z" transform="translate(50.80 598.9) scale(0.01416 -0.01416)"/></g>
<g font-size="29"><path d="M768 0L575 0L575 1140Q518 1085 412 1023Q307 961 223 930L223 1104Q374 1175 487 1276Q600 1377 647 1472L763 1472Z" transform="translate(34.20 656.6) scale(0.01416 -0.01416)"/><text transform="translate(50.33 656.6) scale(1 1.04)">00</text></g>
<g font-size="29"><path d="M768 0L575 0L575 1140Q518 1085 412 1023Q307 961 223 930L223 1104Q374 1175 487 1276Q600 1377 647 1472L763 1472Z" transform="translate(42.90 867.7) scale(0.01416 -0.01416)"/></g>
<g font-size="29"><path d="M768 0L575 0L575 1140Q518 1085 412 1023Q307 961 223 930L223 1104Q374 1175 487 1276Q600 1377 647 1472L763 1472Z" transform="translate(18.30 925.6) scale(0.01416 -0.01416)"/><text transform="translate(34.43 925.6) scale(1 1.04)">000</text></g>
<g fill="#000"><rect x="51" y="337" width="36" height="3"/><rect x="35" y="606" width="52" height="3"/><rect x="19" y="875" width="68" height="3"/></g>
<g font-size="34"><text transform="translate(274.50 978.85) scale(1 1.04)">5</text></g>
<g font-size="34"><path d="M768 0L575 0L575 1140Q518 1085 412 1023Q307 961 223 930L223 1104Q374 1175 487 1276Q600 1377 647 1472L763 1472Z" transform="translate(451.40 978.85) scale(0.01660 -0.01660)"/><text transform="translate(470.31 978.85) scale(1 1.04)">0</text></g>
<g font-size="34"><path d="M768 0L575 0L575 1140Q518 1085 412 1023Q307 961 223 930L223 1104Q374 1175 487 1276Q600 1377 647 1472L763 1472Z" transform="translate(636.90 978.85) scale(0.01660 -0.01660)"/><text transform="translate(655.81 978.85) scale(1 1.04)">5</text></g>
<g font-size="34"><text transform="translate(375.00 1030) scale(1 1.0)" font-style="italic">τ</text><text transform="translate(387.72 1030) scale(1 1.0)"> (</text><text transform="translate(408.49 1030) scale(1 1.0)" font-style="italic">μ</text><text transform="translate(429.11 1030) scale(1 0.98)">s</text><text transform="translate(446.11 1030) scale(1 1.0)">)</text></g>
<g transform="translate(24.8 548.9) rotate(-90) scale(1.012 1)" letter-spacing="0"><g font-size="34"><text transform="translate(0.00 0) scale(1 1.04)">E</text><text transform="translate(22.68 0) scale(1 0.98)">cho </text><text transform="translate(86.94 0) scale(1 1.0)">(</text><text transform="translate(98.26 0) scale(1 0.98)">a</text><text transform="translate(117.17 0) scale(1 1.04)">.</text><text transform="translate(126.62 0) scale(1 0.98)">u</text><text transform="translate(145.53 0) scale(1 1.04)">.</text><text transform="translate(154.98 0) scale(1 1.0)">)</text></g></g>
<g font-size="34"><path d="M768 0L575 0L575 1140Q518 1085 412 1023Q307 961 223 930L223 1104Q374 1175 487 1276Q600 1377 647 1472L763 1472Z" transform="translate(373.10 89.8) scale(0.01660 -0.01660)"/><text transform="translate(289.00 89.8) scale(1 0.98)" font-style="italic">x</text><text transform="translate(315.45 89.8) scale(1 1.04)">= 0.</text><text transform="translate(392.01 89.8) scale(1 1.04)">%, 27.89 GH</text><text transform="translate(586.67 89.8) scale(1 0.98)">z</text></g>
<g font-size="34"><path d="M768 0L575 0L575 1140Q518 1085 412 1023Q307 961 223 930L223 1104Q374 1175 487 1276Q600 1377 647 1472L763 1472Z" transform="translate(373.10 149) scale(0.01660 -0.01660)"/><text transform="translate(289.00 149) scale(1 0.98)" font-style="italic">x</text><text transform="translate(315.45 149) scale(1 1.04)">= 0.</text><text transform="translate(392.01 149) scale(1 1.04)">%, 35.54 GH</text><text transform="translate(586.67 149) scale(1 0.98)">z </text><text transform="translate(613.11 149) scale(1 1.0)">(</text><text transform="translate(624.43 149) scale(1 0.98)" font-style="italic">nnn</text><text transform="translate(681.16 149) scale(1 1.0)">)</text></g>
<g font-size="34"><path d="M768 0L575 0L575 1140Q518 1085 412 1023Q307 961 223 930L223 1104Q374 1175 487 1276Q600 1377 647 1472L763 1472Z" transform="translate(392.01 208.1) scale(0.01660 -0.01660)"/><text transform="translate(289.00 208.1) scale(1 0.98)" font-style="italic">x</text><text transform="translate(315.45 208.1) scale(1 1.04)">= 0.0</text><text transform="translate(410.92 208.1) scale(1 1.04)">%, 27.89 GH</text><text transform="translate(605.58 208.1) scale(1 0.98)">z</text></g>
</svg>
</body></html>
